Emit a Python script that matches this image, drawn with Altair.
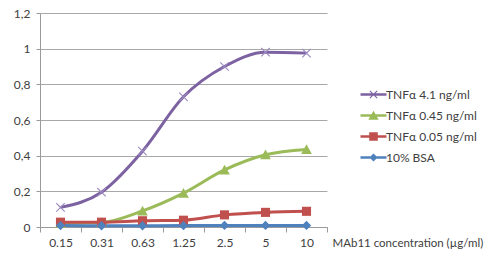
import math
import altair as alt
import pandas as pd

conc = ["0.15", "0.31", "0.63", "1.25", "2.5", "5", "10"]
series_names = ["TNFα 4.1 ng/ml", "TNFα 0.45 ng/ml", "TNFα 0.05 ng/ml", "10% BSA"]
tnf_41 = [0.11, 0.195, 0.425, 0.73, 0.90, 0.98, 0.975]
tnf_045 = [0.02, 0.025, 0.09, 0.19, 0.32, 0.405, 0.435]
tnf_005 = [0.027, 0.027, 0.035, 0.038, 0.068, 0.082, 0.088]
bsa_10 = [0.008, 0.007, 0.007, 0.008, 0.009, 0.009, 0.009]
line_colors = ["#7D62A1", "#9BBB59", "#C0504D", "#4F81BD"]
marker_colors = ["#9C8AC0", "#9BBB59", "#C0504D", "#4F81BD"]


def fmt(v):
    return f"{v:.3f}"


def poly(pts):
    return "M" + "L".join(f"{fmt(px)},{fmt(py)}" for px, py in pts) + "Z"


def xglyph(a, t):
    plus = [(t, -a), (t, -t), (a, -t), (a, t), (t, t), (t, a),
            (-t, a), (-t, t), (-a, t), (-a, -t), (-t, -t), (-t, -a)]
    s = 1 / math.sqrt(2)
    return poly([((px - py) * s, (px + py) * s) for px, py in plus])


def bar(h):
    return poly([(-2, -h), (2, -h), (2, h), (-2, h)])


# glyphs in unit coordinates (1 unit = sqrt(size)/2 px)
plot_shapes = [
    xglyph(0.92, 0.085),
    poly([(0, -0.8), (0.82, 0.7), (-0.82, 0.7)]),
    poly([(-0.7, -0.7), (0.7, -0.7), (0.7, 0.7), (-0.7, 0.7)]),
    poly([(0, -0.72), (0.72, 0), (0, 0.72), (-0.72, 0)]),
]
legend_shapes = [
    bar(0.19) + xglyph(0.8, 0.085),
    bar(0.19) + poly([(0, -0.72), (0.8, 0.66), (-0.8, 0.66)]),
    bar(0.19) + poly([(-0.66, -0.66), (0.66, -0.66), (0.66, 0.66), (-0.66, 0.66)]),
    bar(0.19) + poly([(0, -0.62), (0.62, 0), (0, 0.62), (-0.62, 0)]),
]

rows = []
for name, vals in zip(series_names, [tnf_41, tnf_045, tnf_005, bsa_10]):
    for c, v in zip(conc, vals):
        rows.append({"conc": c, "series": name, "value": v})
df = pd.DataFrame(rows)

FONT = "Lato"

x = alt.X(
    "conc:O", sort=conc, bandPosition=0.5,
    scale=alt.Scale(type="band", paddingInner=0, paddingOuter=0),
    axis=alt.Axis(
        title="MAb11 concentration (µg/ml)", labelAngle=0, grid=False,
        tickBand="extent", tickSize=5, tickColor="#9A9A9A",
        domainColor="#9A9A9A", labelPadding=5, labelFont=FONT,
        labelFontSize=12, labelColor="#404040",
        titleFont=FONT, titleFontSize=11.5, titleFontWeight="normal",
        titleColor="#404040", titleAnchor="start", titleAlign="left",
        titleBaseline="middle", titleX=292, titleY=16,
    ),
)
y = alt.Y(
    "value:Q", scale=alt.Scale(domain=[0, 1.2], nice=False),
    axis=alt.Axis(
        title=None, values=[0, 0.2, 0.4, 0.6, 0.8, 1.0, 1.2],
        labelExpr="replace(format(datum.value, '~g'), '.', ',')",
        grid=True, gridColor="#A8A8A8", domainColor="#9A9A9A",
        tickColor="#9A9A9A", tickSize=4, labelPadding=6,
        labelFont=FONT, labelFontSize=12, labelColor="#404040",
    ),
)

base = alt.Chart(df)

lines = base.mark_line(strokeWidth=3, interpolate="monotone").encode(
    x=x, y=y,
    color=alt.Color("series:N", scale=alt.Scale(domain=series_names, range=line_colors), legend=None),
)

points = base.mark_point(filled=True, size=169, opacity=1).encode(
    x=x, y=y,
    color=alt.Color("series:N", scale=alt.Scale(domain=series_names, range=marker_colors), legend=None),
    shape=alt.Shape("series:N", scale=alt.Scale(domain=series_names, range=plot_shapes), legend=None),
)

leg = dict(
    title=None, orient="none", legendX=320, legendY=75, padding=0,
    symbolSize=169, symbolStrokeWidth=0, symbolOpacity=1,
    symbolOffset=7, labelOffset=6, rowPadding=8,
    labelFont=FONT, labelFontSize=12, labelColor="#404040",
)

legend_layer = base.mark_point(filled=True, size=169, opacity=0).encode(
    x=x, y=y,
    color=alt.Color("series:N", scale=alt.Scale(domain=series_names, range=line_colors),
                    legend=alt.Legend(**leg)),
    shape=alt.Shape("series:N", scale=alt.Scale(domain=series_names, range=legend_shapes),
                    legend=alt.Legend(**leg)),
)

chart = (
    alt.layer(lines, points, legend_layer)
    .resolve_scale(color="independent", shape="independent")
    .properties(
        width=287, height=214,
        autosize=alt.AutoSizeParams(type="none"),
        padding={"left": 40, "top": 13, "right": 173, "bottom": 30},
        background="white",
    )
    .configure_view(stroke=None)
)

chart.save("out.html", embed_options={"renderer": "svg", "actions": False})
